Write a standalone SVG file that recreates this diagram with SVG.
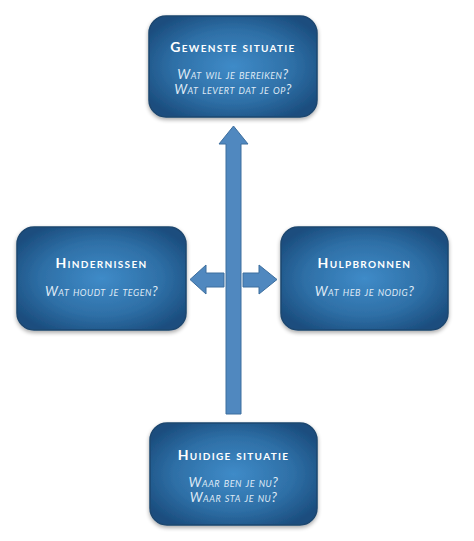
<svg xmlns="http://www.w3.org/2000/svg" width="474" height="541" viewBox="0 0 474 541">
<defs>
<radialGradient id="bg" cx="50%" cy="50%" r="60%">
<stop offset="0" stop-color="#3f8bc8"/>
<stop offset="0.6" stop-color="#2e6fa6"/>
<stop offset="1" stop-color="#1b4d7e"/>
</radialGradient>
<filter id="sh" x="-10%" y="-10%" width="120%" height="130%">
<feGaussianBlur in="SourceAlpha" stdDeviation="2"/>
<feOffset dy="2"/>
<feComponentTransfer><feFuncA type="linear" slope="0.35"/></feComponentTransfer>
<feMerge><feMergeNode/><feMergeNode in="SourceGraphic"/></feMerge>
</filter>
</defs>
<style>
.box{fill:url(#bg);stroke:#1d476f;stroke-width:1.5;filter:url(#sh)}
.t{font-family:Lato,"Open Sans","Liberation Sans",sans-serif;font-variant:small-caps;font-weight:bold;font-size:14px;letter-spacing:1.3px;fill:#ffffff;text-anchor:middle}
.s{font-family:Lato,"Open Sans","Liberation Sans",sans-serif;font-variant:small-caps;font-style:italic;font-size:13.5px;letter-spacing:0.5px;fill:#dfe9f5;text-anchor:middle}
.ar{fill:#5088bf;stroke:#3d6e9e;stroke-width:1}
</style>
<rect width="474" height="541" fill="#ffffff"/>
<g id="connectors">
<path class="ar" d="M226,414 L226,144 L219,144 L233.5,126 L248,144 L241,144 L241,414 Z"/>
<path class="ar" d="M224,273 L206,273 L206,265 L190,279.5 L206,294 L206,287 L224,287 Z"/>
<path class="ar" d="M243,273 L259,273 L259,265 L277,279.5 L259,294 L259,287 L243,287 Z"/>
</g>
<g id="gewenste">
<rect class="box" x="149" y="16" width="168" height="101" rx="17"/>
<text class="t" x="233" y="52">Gewenste situatie</text>
<text class="s" x="233" y="79">Wat wil je bereiken?</text>
<text class="s" x="233" y="94">Wat levert dat je op?</text>
</g>
<g id="hindernissen">
<rect class="box" x="17" y="227" width="169" height="103" rx="17"/>
<text class="t" x="101.5" y="268">Hindernissen</text>
<text class="s" x="101.5" y="296">Wat houdt je tegen?</text>
</g>
<g id="hulpbronnen">
<rect class="box" x="281" y="227" width="167" height="103" rx="17"/>
<text class="t" x="364.5" y="268">Hulpbronnen</text>
<text class="s" x="364.5" y="296">Wat heb je nodig?</text>
</g>
<g id="huidige">
<rect class="box" x="150" y="423" width="167" height="102" rx="17"/>
<text class="t" x="233.5" y="460">Huidige situatie</text>
<text class="s" x="233.5" y="487">Waar ben je nu?</text>
<text class="s" x="233.5" y="502">Waar sta je nu?</text>
</g>
</svg>
